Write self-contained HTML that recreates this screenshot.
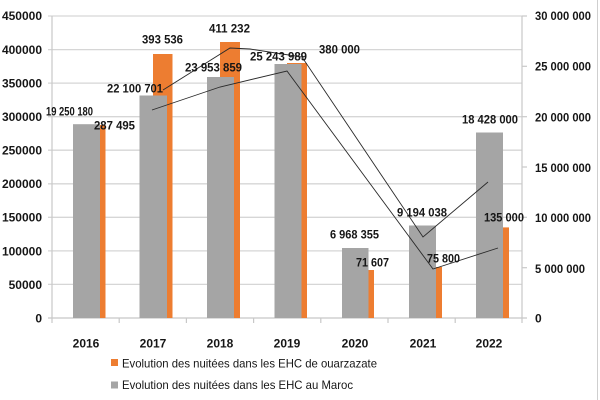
<!DOCTYPE html>
<html>
<head>
<meta charset="utf-8">
<style>
html,body{margin:0;padding:0;background:#fff;}
svg{display:block;}
text{font-family:"Liberation Sans",Arial,sans-serif;font-weight:bold;fill:#161616;font-size:12px;}
</style>
</head>
<body>
<svg width="600" height="400" viewBox="0 0 600 400" xmlns="http://www.w3.org/2000/svg">
<rect x="0" y="0" width="600" height="400" fill="#fff"/>
<!-- right frame border -->
<line x1="597.5" y1="0" x2="597.5" y2="400" stroke="#cfcfcf" stroke-width="1"/>

<!-- gridlines -->
<g stroke="#d6d6d6" stroke-width="1.3">
<line x1="48" y1="16" x2="522" y2="16"/>
<line x1="48" y1="49.6" x2="522" y2="49.6"/>
<line x1="48" y1="83.1" x2="522" y2="83.1"/>
<line x1="48" y1="116.7" x2="522" y2="116.7"/>
<line x1="48" y1="150.2" x2="522" y2="150.2"/>
<line x1="48" y1="183.8" x2="522" y2="183.8"/>
<line x1="48" y1="217.3" x2="522" y2="217.3"/>
<line x1="48" y1="250.9" x2="522" y2="250.9"/>
<line x1="48" y1="284.4" x2="522" y2="284.4"/>
</g>
<!-- axes -->
<g stroke="#c8c8c8" stroke-width="1.2">
<line x1="52" y1="16" x2="52" y2="318"/>
<line x1="522" y1="16" x2="522" y2="318"/>
<line x1="48" y1="318" x2="527" y2="318"/>
<!-- right ticks -->
<line x1="522" y1="16" x2="527" y2="16"/>
<line x1="522" y1="66.3" x2="527" y2="66.3"/>
<line x1="522" y1="116.7" x2="527" y2="116.7"/>
<line x1="522" y1="167" x2="527" y2="167"/>
<line x1="522" y1="217.3" x2="527" y2="217.3"/>
<line x1="522" y1="267.7" x2="527" y2="267.7"/>
<!-- bottom ticks -->
<line x1="52" y1="318" x2="52" y2="323"/>
<line x1="119.2" y1="318" x2="119.2" y2="323"/>
<line x1="186.4" y1="318" x2="186.4" y2="323"/>
<line x1="253.6" y1="318" x2="253.6" y2="323"/>
<line x1="320.8" y1="318" x2="320.8" y2="323"/>
<line x1="388" y1="318" x2="388" y2="323"/>
<line x1="455.2" y1="318" x2="455.2" y2="323"/>
<line x1="522" y1="318" x2="522" y2="323"/>
</g>

<!-- orange bars (left axis) -->
<g fill="#ED7D31">
<rect x="86" y="125" width="19.5" height="193"/>
<rect x="153" y="54" width="19.5" height="264"/>
<rect x="220" y="42" width="20" height="276"/>
<rect x="287" y="63" width="20" height="255"/>
<rect x="354" y="270" width="20" height="48"/>
<rect x="422" y="267" width="20" height="51"/>
<rect x="489" y="227.4" width="20" height="90.6"/>
</g>
<!-- gray bars (right axis) -->
<g fill="#A5A5A5">
<rect x="73" y="124.2" width="27" height="193.8"/>
<rect x="139.5" y="95.5" width="27.5" height="222.5"/>
<rect x="207" y="77" width="27" height="241"/>
<rect x="274.5" y="64" width="27" height="254"/>
<rect x="342" y="248" width="26.5" height="70"/>
<rect x="409" y="225.5" width="27" height="92.5"/>
<rect x="476" y="132.5" width="27" height="185.5"/>
</g>

<!-- lines -->
<polyline points="152,110 220,87 287,71 433,269 498,248" fill="none" stroke="#2a2a2a" stroke-width="0.9"/>
<polyline points="163,90 230,48 250,49 302,57 423,237 488,182" fill="none" stroke="#2a2a2a" stroke-width="0.9"/>

<!-- left axis labels -->
<g text-anchor="end">
<text x="42" y="20">450000</text>
<text x="42" y="54">400000</text>
<text x="42" y="87.5">350000</text>
<text x="42" y="121">300000</text>
<text x="42" y="154.5">250000</text>
<text x="42" y="188">200000</text>
<text x="42" y="221.5">150000</text>
<text x="42" y="255.5">100000</text>
<text x="42" y="289">50000</text>
<text x="42" y="322.5">0</text>
</g>

<!-- right axis labels -->
<g>
<text x="535" y="20" textLength="56" lengthAdjust="spacingAndGlyphs">30 000 000</text>
<text x="535" y="70.5" textLength="56" lengthAdjust="spacingAndGlyphs">25 000 000</text>
<text x="535" y="121.5" textLength="56" lengthAdjust="spacingAndGlyphs">20 000 000</text>
<text x="535" y="172" textLength="56" lengthAdjust="spacingAndGlyphs">15 000 000</text>
<text x="535" y="222" textLength="56" lengthAdjust="spacingAndGlyphs">10 000 000</text>
<text x="535" y="273" textLength="50" lengthAdjust="spacingAndGlyphs">5 000 000</text>
<text x="535" y="322.5">0</text>
</g>

<!-- x labels -->
<g text-anchor="middle">
<text x="86" y="347.5">2016</text>
<text x="153" y="347.5">2017</text>
<text x="220" y="347.5">2018</text>
<text x="287" y="347.5">2019</text>
<text x="355" y="347.5">2020</text>
<text x="423" y="347.5">2021</text>
<text x="489" y="347.5">2022</text>
</g>

<!-- data labels -->
<g>
<text x="46" y="115.5" textLength="47" lengthAdjust="spacingAndGlyphs">19 250 180</text>
<text x="94" y="129.5" textLength="41" lengthAdjust="spacingAndGlyphs">287 495</text>
<text x="142" y="43.5" textLength="41" lengthAdjust="spacingAndGlyphs">393 536</text>
<text x="107" y="92.5" textLength="56" lengthAdjust="spacingAndGlyphs">22 100 701</text>
<text x="209" y="32.5" textLength="41" lengthAdjust="spacingAndGlyphs">411 232</text>
<text x="185" y="71.5" textLength="57" lengthAdjust="spacingAndGlyphs">23 953 859</text>
<text x="250" y="60.5" textLength="57" lengthAdjust="spacingAndGlyphs">25 243 989</text>
<text x="319" y="53.5" textLength="41" lengthAdjust="spacingAndGlyphs">380 000</text>
<text x="330" y="238.5" textLength="49" lengthAdjust="spacingAndGlyphs">6 968 355</text>
<text x="356" y="266.5" textLength="33" lengthAdjust="spacingAndGlyphs">71 607</text>
<text x="397" y="216.5" textLength="50" lengthAdjust="spacingAndGlyphs">9 194 038</text>
<text x="427" y="262.5" textLength="33" lengthAdjust="spacingAndGlyphs">75 800</text>
<text x="462" y="123.5" textLength="56" lengthAdjust="spacingAndGlyphs">18 428 000</text>
<text x="484" y="221.5" textLength="40" lengthAdjust="spacingAndGlyphs">135 000</text>
</g>

<!-- legend -->
<rect x="111" y="359" width="7" height="7" fill="#ED7D31"/>
<text x="122" y="367.5" textLength="255" lengthAdjust="spacingAndGlyphs" style="font-weight:normal">Evolution des nuitées dans les EHC de ouarzazate</text>
<rect x="111" y="381.5" width="7" height="7" fill="#A5A5A5"/>
<text x="122" y="389" textLength="231" lengthAdjust="spacingAndGlyphs" style="font-weight:normal">Evolution des nuitées dans les EHC au Maroc</text>
</svg>
</body>
</html>
